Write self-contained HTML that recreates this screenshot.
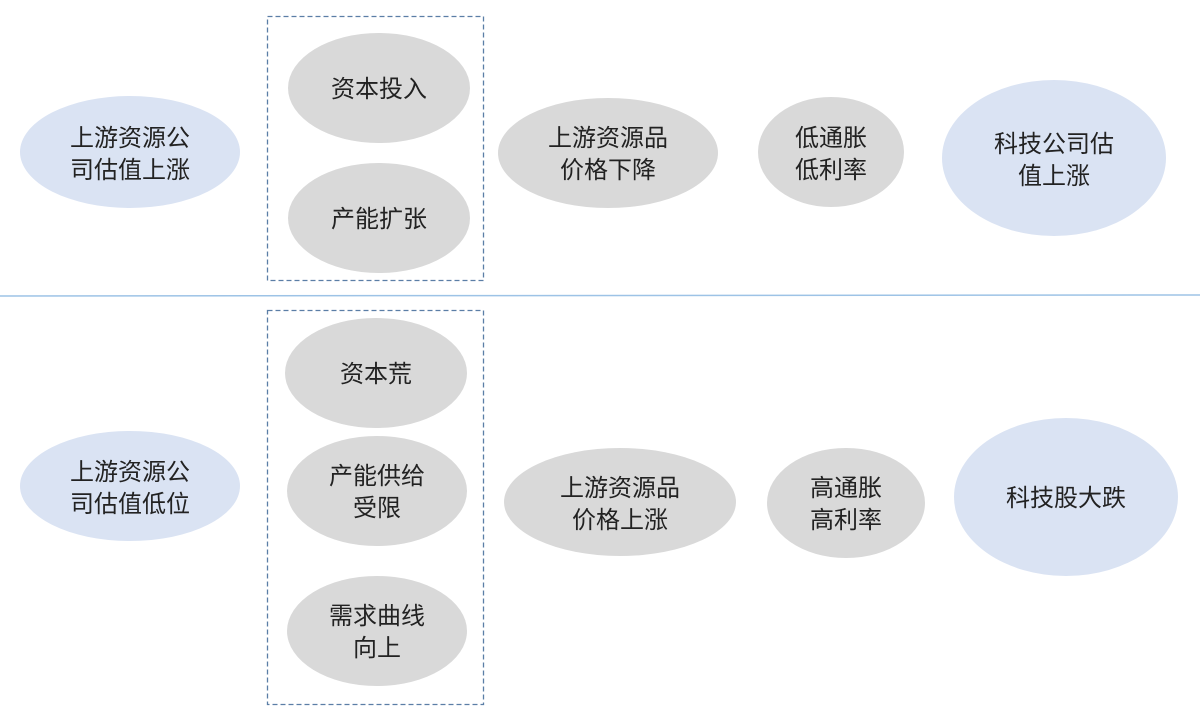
<!DOCTYPE html>
<html><head><meta charset="utf-8"><style>
body{margin:0;background:#fff;}
svg text{font-family:"Liberation Sans","Noto Sans CJK SC",sans-serif;font-size:24px;fill:#222;text-anchor:middle;}
</style></head><body>
<svg width="1200" height="720" viewBox="0 0 1200 720" xmlns="http://www.w3.org/2000/svg">
<rect x="267.5" y="16.5" width="216" height="264" fill="none" stroke="#5b7ea6" stroke-width="1.3" stroke-dasharray="5,3"/>
<rect x="267.5" y="310.5" width="216" height="394" fill="none" stroke="#5b7ea6" stroke-width="1.3" stroke-dasharray="5,3"/>
<line x1="0" y1="296" x2="1200" y2="295" stroke="#9dc3e6" stroke-width="1.5"/>
<g fill="#dae3f3">
<ellipse cx="130" cy="152" rx="110" ry="56"/>
<ellipse cx="1054" cy="158" rx="112" ry="78"/>
<ellipse cx="130" cy="486" rx="110" ry="55"/>
<ellipse cx="1066" cy="497" rx="112" ry="79"/>
</g>
<g fill="#d9d9d9">
<ellipse cx="379" cy="88" rx="91" ry="55"/>
<ellipse cx="379" cy="218" rx="91" ry="55"/>
<ellipse cx="608" cy="153" rx="110" ry="55"/>
<ellipse cx="831" cy="152" rx="73" ry="55"/>
<ellipse cx="376" cy="373" rx="91" ry="55"/>
<ellipse cx="377" cy="491" rx="90" ry="55"/>
<ellipse cx="377" cy="631" rx="90" ry="55"/>
<ellipse cx="620" cy="502" rx="116" ry="54"/>
<ellipse cx="846" cy="503" rx="79" ry="55"/>
</g>
<text x="130" y="146">上游资源公</text><text x="130" y="178">司估值上涨</text>
<text x="379" y="97">资本投入</text>
<text x="379" y="227">产能扩张</text>
<text x="608" y="146">上游资源品</text><text x="608" y="178">价格下降</text>
<text x="831" y="146">低通胀</text><text x="831" y="178">低利率</text>
<text x="1054" y="152">科技公司估</text><text x="1054" y="184">值上涨</text>
<text x="130" y="480">上游资源公</text><text x="130" y="512">司估值低位</text>
<text x="376" y="382">资本荒</text>
<text x="377" y="484">产能供给</text><text x="377" y="516">受限</text>
<text x="377" y="624">需求曲线</text><text x="377" y="656">向上</text>
<text x="620" y="496">上游资源品</text><text x="620" y="528">价格上涨</text>
<text x="846" y="496">高通胀</text><text x="846" y="528">高利率</text>
<text x="1066" y="506">科技股大跌</text>
</svg>
</body></html>
